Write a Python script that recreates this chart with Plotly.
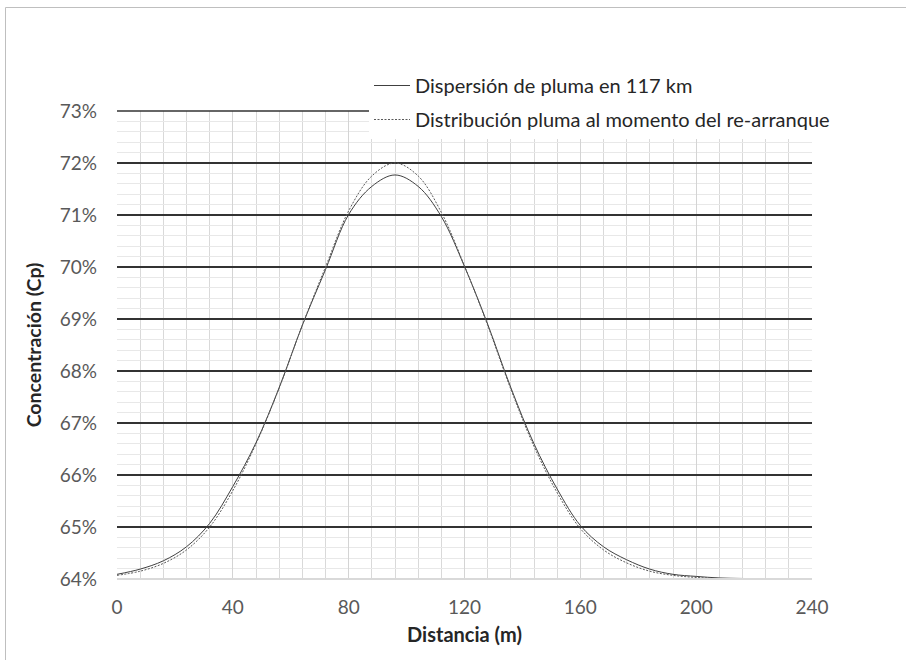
import plotly.graph_objects as go

# Distance (m)
distance = [0, 8, 16, 24, 32, 40, 48, 56, 64, 72, 80, 88, 96, 104, 112, 120,
            128, 136, 144, 152, 160, 168, 176, 184, 192, 200, 208, 216, 224, 232, 240]

# Concentration (%) - plume dispersion at 117 km (solid)
disp_117 = [64.09, 64.19, 64.35, 64.62, 65.07, 65.78, 66.62, 67.68, 68.88, 69.95, 71.01, 71.55, 71.77,
            71.55, 70.97, 70.01, 68.90, 67.68, 66.60, 65.73, 65.03, 64.62, 64.37, 64.19, 64.09, 64.05,
            64.02, 64.01, 64.00, 64.00, 64.00]

# Concentration (%) - plume distribution at restart (dotted)
dist_restart = [64.07, 64.15, 64.30, 64.56, 65.00, 65.70, 66.60, 67.67, 68.88, 70.00, 71.08, 71.75, 72.00,
                71.75, 71.05, 70.02, 68.88, 67.65, 66.55, 65.66, 64.97, 64.56, 64.31, 64.15, 64.07, 64.03,
                64.01, 64.00, 64.00, 64.00, 64.00]

name_solid = "Dispersión de pluma en 117 km"
name_dot = "Distribución pluma al momento del re-arranque"

FONT = "Lato, 'Noto Sans', sans-serif"

fig = go.Figure()
fig.add_trace(go.Scatter(
    x=distance, y=disp_117, name=name_solid, mode="lines",
    line=dict(color="#404040", width=1, shape="spline", smoothing=1.0),
    legendgroup="a"))
fig.add_trace(go.Scatter(
    x=distance, y=dist_restart, name=name_dot, mode="lines",
    line=dict(color="#595959", width=1, dash="2px,1.5px", shape="spline", smoothing=1.0),
    legendgroup="b"))

fig.update_layout(
    width=906, height=660,
    margin=dict(l=117, r=94, t=111, b=81),
    paper_bgcolor="white", plot_bgcolor="white",
    font=dict(family=FONT, size=19, color="#595959"),
    showlegend=True,
    legend=dict(
        x=(369 - 117) / 695, xanchor="left",
        y=1 + (111 - 66) / 468, yanchor="top",
        bgcolor="white", borderwidth=0,
        font=dict(family=FONT, size=20, color="#262626"),
        traceorder="grouped", tracegroupgap=5,
        itemwidth=36,
    ),
    xaxis=dict(
        range=[0, 240], dtick=40, tick0=0,
        showgrid=True, gridcolor="#d4d4d4", gridwidth=1,
        minor=dict(dtick=8, showgrid=True, gridcolor="#d9d9d9", gridwidth=1),
        zeroline=False, showline=False, ticks="",
        ticklabelstandoff=15,
        tickfont=dict(size=19, color="#595959"),
        title=dict(text="<b>Distancia (m)</b>", font=dict(size=20, color="#262626"), standoff=10),
    ),
    yaxis=dict(
        range=[64, 73], dtick=1, tick0=64, ticksuffix="%",
        showgrid=True, gridcolor="#333333", gridwidth=1.6,
        minor=dict(dtick=0.2, showgrid=True, gridcolor="#e8e8e8", gridwidth=1),
        zeroline=False, showline=False, ticks="",
        ticklabelstandoff=19,
        tickfont=dict(size=19, color="#595959"),
        title=dict(text="<b>Concentración (Cp)</b>", font=dict(size=19.5, color="#262626"), standoff=12),
    ),
)

# top 73% gridline (plotly drops the gridline at the range end)
fig.add_shape(type="line", xref="paper", yref="paper", x0=0, x1=1, y0=1, y1=1,
              line=dict(color="#333333", width=1.6), layer="above")

# bottom axis line (light)
fig.add_shape(type="line", xref="paper", yref="paper", x0=0, x1=1, y0=0, y1=0,
              line=dict(color="#d9d9d9", width=2), layer="above")

# outer chart border (top and left visible)
fig.add_shape(type="rect", xref="paper", yref="paper",
              x0=(5.5 - 117) / 695, x1=(1000 - 117) / 695,
              y0=-0.5, y1=1 + (111 - 7.5) / 468,
              line=dict(color="#bfbfbf", width=1), fillcolor="rgba(0,0,0,0)", layer="below")

fig.write_html("out.html")
